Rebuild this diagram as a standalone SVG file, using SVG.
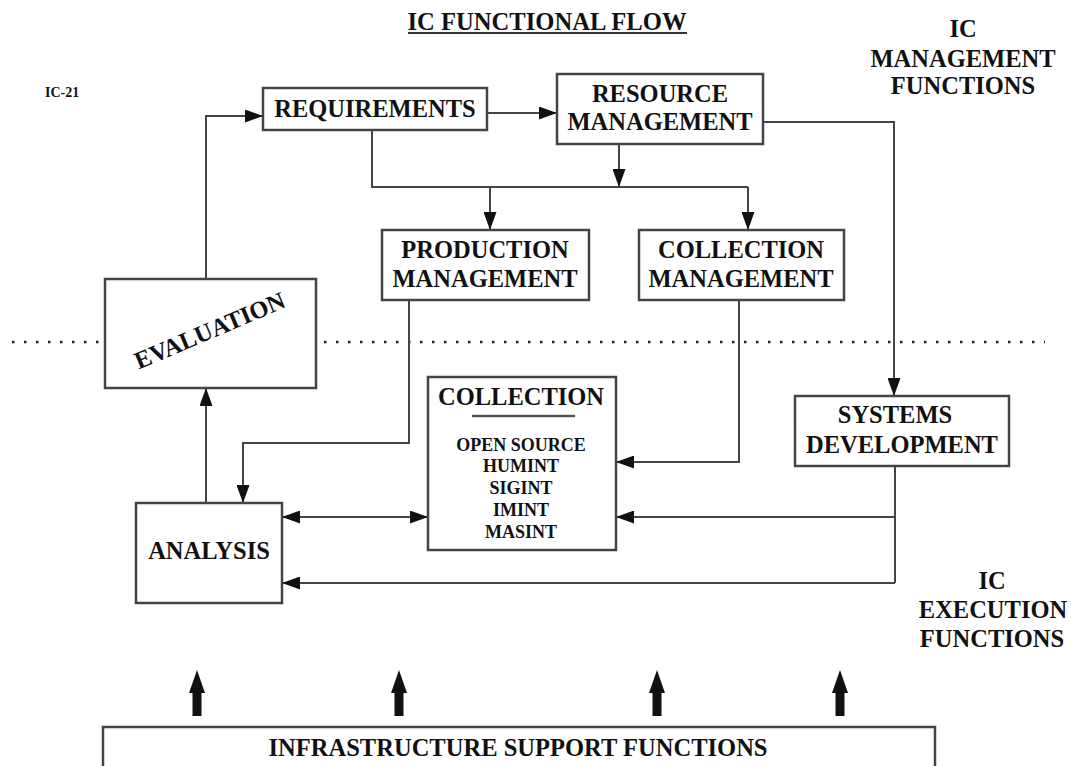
<svg xmlns="http://www.w3.org/2000/svg" width="1071" height="766" viewBox="0 0 1071 766">
<style>
text{font-family:"Liberation Serif","Times New Roman",serif;font-weight:bold;fill:#111;}
.lbl{font-size:24.5px;text-anchor:middle;}
.sm{font-size:18px;text-anchor:middle;}
.box{fill:#fff;stroke:#444;stroke-width:2.5;}
.ln{fill:none;stroke:#444;stroke-width:2;}
.arr{marker-end:url(#ah);}
.dot{fill:none;stroke:#222;stroke-width:2.5;stroke-dasharray:2.5 9.5;}
</style>
<defs>
<marker id="ah" markerUnits="userSpaceOnUse" markerWidth="18" markerHeight="13" refX="18" refY="6.5" orient="auto-start-reverse">
<path d="M0,0 L18,6.5 L0,13 z" fill="#111"/>
</marker>
</defs>
<rect width="1071" height="766" fill="#fff"/>

<g id="title">
<text x="547" y="30" class="lbl" textLength="279" lengthAdjust="spacingAndGlyphs">IC FUNCTIONAL FLOW</text>
<line x1="408" y1="33" x2="687" y2="33" stroke="#333" stroke-width="2"/>
</g>
<text id="ic21" x="45" y="97" style="font-size:14px">IC-21</text>

<g id="mgmt-label">
<text x="963" y="37" class="lbl">IC</text>
<text x="963" y="67" class="lbl">MANAGEMENT</text>
<text x="963" y="94" class="lbl">FUNCTIONS</text>
</g>
<g id="exec-label">
<text x="992" y="589" class="lbl">IC</text>
<text x="993" y="618" class="lbl">EXECUTION</text>
<text x="992" y="647" class="lbl">FUNCTIONS</text>
</g>

<line id="divider" x1="12" y1="342" x2="1045" y2="342" class="dot"/>

<g id="connectors">
<polyline class="ln arr" points="487,113 557,113"/>
<polyline class="ln arr" points="206,279 206,116 263,116"/>
<polyline class="ln arr" points="763,122 894,122 894,396"/>
<polyline class="ln arr" points="619,144 619,187"/>
<polyline class="ln" points="372,130 372,187 748,187"/>
<polyline class="ln arr" points="490,187 490,230"/>
<polyline class="ln arr" points="748,187 748,230"/>
<polyline class="ln arr" points="409,300 409,443 243,443 243,503"/>
<polyline class="ln arr" points="206,503 206,388"/>
<polyline class="ln arr" style="marker-start:url(#ah)" points="282,517 428,517"/>
<polyline class="ln arr" points="739,300 739,462 616,462"/>
<polyline class="ln" points="895,467 895,583"/>
<polyline class="ln arr" points="895,517 616,517"/>
<polyline class="ln arr" points="895,583 282,583"/>
</g>

<g id="requirements">
<rect class="box" x="263" y="88" width="224" height="42"/>
<text x="375" y="117" class="lbl">REQUIREMENTS</text>
</g>
<g id="resource-management">
<rect class="box" x="557" y="74" width="206" height="70"/>
<text x="660" y="102" class="lbl">RESOURCE</text>
<text x="660" y="130" class="lbl">MANAGEMENT</text>
</g>
<g id="production-management">
<rect class="box" x="382" y="230" width="207" height="70"/>
<text x="485" y="258" class="lbl">PRODUCTION</text>
<text x="485" y="287" class="lbl">MANAGEMENT</text>
</g>
<g id="collection-management">
<rect class="box" x="639" y="230" width="205" height="70"/>
<text x="741" y="258" class="lbl">COLLECTION</text>
<text x="741" y="287" class="lbl">MANAGEMENT</text>
</g>
<g id="evaluation">
<rect class="box" x="105" y="279" width="211" height="109"/>
<text class="lbl" transform="translate(213,338) rotate(-23)">EVALUATION</text>
</g>
<g id="collection">
<rect class="box" x="428" y="377" width="188" height="173"/>
<text x="521" y="405" class="lbl">COLLECTION</text>
<line x1="472" y1="416" x2="575" y2="416" stroke="#555" stroke-width="2.5"/>
<text x="521" y="451" class="sm">OPEN SOURCE</text>
<text x="521" y="472" class="sm">HUMINT</text>
<text x="521" y="494" class="sm">SIGINT</text>
<text x="521" y="516" class="sm">IMINT</text>
<text x="521" y="538" class="sm">MASINT</text>
</g>
<g id="systems-development">
<rect class="box" x="795" y="396" width="214" height="70"/>
<text x="895" y="423" class="lbl">SYSTEMS</text>
<text x="902" y="453" class="lbl">DEVELOPMENT</text>
</g>
<g id="analysis">
<rect class="box" x="136" y="503" width="146" height="100"/>
<text x="209" y="559" class="lbl">ANALYSIS</text>
</g>

<g id="support-arrows" fill="#111">
<path d="M197,670 L205,693 L201.5,693 L201.5,716 L192.5,716 L192.5,693 L189,693 z"/>
<path d="M399,670 L407,693 L403.5,693 L403.5,716 L394.5,716 L394.5,693 L391,693 z"/>
<path d="M657,670 L665,693 L661.5,693 L661.5,716 L652.5,716 L652.5,693 L649,693 z"/>
<path d="M840,670 L848,693 L844.5,693 L844.5,716 L835.5,716 L835.5,693 L832,693 z"/>
</g>
<g id="infrastructure">
<rect class="box" x="103" y="727" width="832" height="50"/>
<text x="518" y="756" class="lbl" textLength="499" lengthAdjust="spacingAndGlyphs">INFRASTRUCTURE SUPPORT FUNCTIONS</text>
</g>
</svg>
